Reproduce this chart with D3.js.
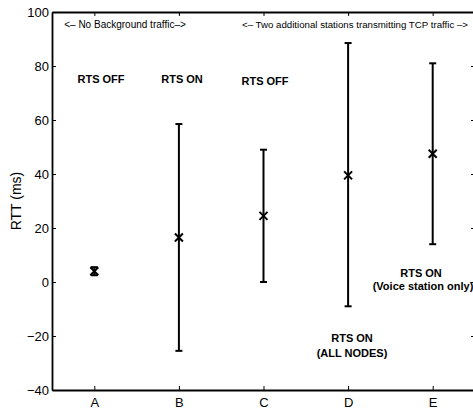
<!DOCTYPE html>
<html>
<head>
<meta charset="utf-8">
<script src="https://cdn.jsdelivr.net/npm/d3@7"></script>
<style>
  body { margin: 0; background: #fff; }
  text { font-family: "Liberation Sans", Arial, Helvetica, sans-serif; }
</style>
</head>
<body>
<script>
// データ
const categories = ["A", "B", "C", "D", "E"];
const meanRtt = [4, 16.5, 24.5, 39.5, 47.5];
const lowRtt = [2.5, -25.5, 0, -9, 14];
const highRtt = [5.5, 58.5, 49, 88.5, 81];
const yTicks = [-40, -20, 0, 20, 40, 60, 80, 100];

const width = 473, height = 410;
const plotL = 52, plotR = 475, plotT = 12, plotB = 390;

const svg = d3.select("body").append("svg")
  .attr("width", width)
  .attr("height", height);

const x = d3.scaleLinear().domain([0.5, 5.5]).range([plotL, plotR]);
const y = d3.scaleLinear().domain([-40, 100]).range([plotB, plotT]);

// 軸 (内向きの目盛)
const idx = categories.map((d, i) => i + 1);
svg.append("g").attr("transform", `translate(0,${plotB})`)
  .call(d3.axisBottom(x).tickValues(idx).tickFormat(i => categories[i - 1]).tickSizeInner(-4).tickSizeOuter(0).tickPadding(8));
svg.append("g").attr("transform", `translate(0,${plotT})`)
  .call(d3.axisTop(x).tickValues(idx).tickFormat("").tickSizeInner(-4).tickSizeOuter(0));
svg.append("g").attr("transform", `translate(${plotL},0)`)
  .call(d3.axisLeft(y).tickValues(yTicks).tickFormat(d => d < 0 ? "\u2212" + (-d) : d).tickSizeInner(-4).tickSizeOuter(0).tickPadding(3));
svg.append("g").attr("transform", `translate(${plotR},0)`)
  .call(d3.axisRight(y).tickValues(yTicks).tickFormat("").tickSizeInner(-4).tickSizeOuter(0));

svg.selectAll(".domain").attr("stroke", "#000").attr("stroke-width", 1.8);
svg.selectAll(".tick line").attr("stroke", "#000").attr("stroke-width", 1);
svg.selectAll(".tick text").attr("fill", "#000").style("font-size", "13px");

// 縦軸ラベル
svg.append("text")
  .attr("transform", `translate(21,${(plotT + plotB) / 2}) rotate(-90)`)
  .attr("text-anchor", "middle")
  .style("font-size", "14px")
  .text("RTT (ms)");

// エラーバー
const bars = svg.append("g");
categories.forEach((c, i) => {
  const cx = x(i + 1);
  bars.append("line")
    .attr("x1", cx).attr("x2", cx)
    .attr("y1", y(lowRtt[i])).attr("y2", y(highRtt[i]))
    .attr("stroke", "#000").attr("stroke-width", 2);
  [lowRtt[i], highRtt[i]].forEach(v => {
    bars.append("line")
      .attr("x1", cx - 3.5).attr("x2", cx + 3.5)
      .attr("y1", y(v)).attr("y2", y(v))
      .attr("stroke", "#000").attr("stroke-width", 2);
  });
  // ×印
  const m = 4, my = y(meanRtt[i]);
  bars.append("path")
    .attr("d", `M${cx - m},${my - m}L${cx + m},${my + m}M${cx - m},${my + m}L${cx + m},${my - m}`)
    .attr("stroke", "#000").attr("stroke-width", 2).attr("fill", "none");
});

// 注釈
const notes = [
  { x: 125, y: 28, t: "<\u2013 No Background traffic\u2013>", bold: false, size: 10 },
  { x: 355, y: 28, t: "<\u2013 Two additional stations transmitting TCP traffic \u2013>", bold: false, size: 9.7 },
  { x: 101, y: 83, t: "RTS OFF", bold: true, size: 11 },
  { x: 182, y: 83, t: "RTS ON", bold: true, size: 11 },
  { x: 265, y: 85, t: "RTS OFF", bold: true, size: 11 },
  { x: 421, y: 277, t: "RTS ON", bold: true, size: 11 },
  { x: 423, y: 290, t: "(Voice station only)", bold: true, size: 11 },
  { x: 352, y: 342, t: "RTS ON", bold: true, size: 11 },
  { x: 352, y: 357, t: "(ALL NODES)", bold: true, size: 11 }
];
svg.selectAll("text.note").data(notes).enter().append("text")
  .attr("class", "note")
  .attr("x", d => d.x).attr("y", d => d.y)
  .attr("text-anchor", "middle")
  .style("font-size", d => d.size + "px")
  .style("font-weight", d => d.bold ? "bold" : "normal")
  .text(d => d.t);
</script>
</body>
</html>
